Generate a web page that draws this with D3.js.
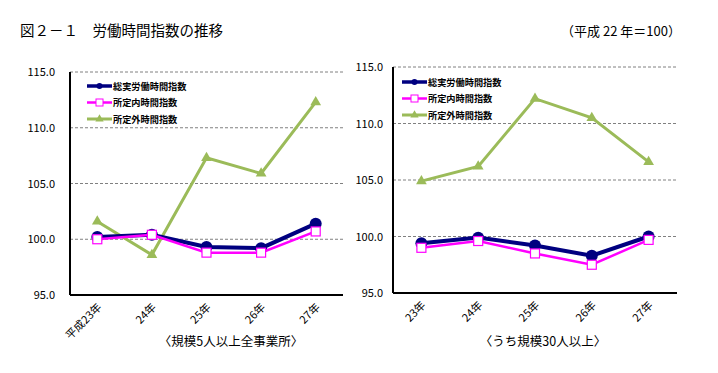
<!DOCTYPE html>
<html>
<head>
<meta charset="utf-8">
<script src="https://cdn.jsdelivr.net/npm/d3@7"></script>
<style>
  body { margin: 0; background: #fff; }
  svg { font-family: "Noto Sans CJK JP", sans-serif; }
</style>
</head>
<body>
<div class="chart"></div>
<script>
// series names and categories
const seriesNames = ["総実労働時間指数", "所定内時間指数", "所定外時間指数"];
const yearsLeft = ["平成23年", "24年", "25年", "26年", "27年"];
const yearsRight = ["23年", "24年", "25年", "26年", "27年"];
const yTicks = [95, 100, 105, 110, 115];

// 規模5人以上
const totalLeft = [100.2, 100.4, 99.3, 99.2, 101.4];
const scheduledLeft = [100.0, 100.4, 98.8, 98.8, 100.7];
const overtimeLeft = [101.6, 98.6, 107.3, 105.9, 112.3];

// 規模30人以上
const totalRight = [99.4, 99.9, 99.2, 98.3, 100.0];
const scheduledRight = [99.0, 99.6, 98.5, 97.5, 99.7];
const overtimeRight = [104.9, 106.2, 112.2, 110.5, 106.6];

const width = 718, height = 373;

const svg = d3.select(".chart")
  .append("svg")
  .attr("width", width)
  .attr("height", height);

// title
svg.append("text")
  .attr("x", 20).attr("y", 36)
  .attr("font-size", 14.5)
  .text("図２－１　労働時間指数の推移");

svg.append("text")
  .attr("x", 681).attr("y", 36)
  .attr("text-anchor", "end")
  .attr("font-size", 13)
  .text("（平成 22 年＝100）");

const colors = ["#000080", "#ff00ff", "#9bbb59"];

function drawPanel(opt) {
  const g = svg.append("g");
  const x = d3.scaleBand()
    .domain(opt.years)
    .range([opt.left, opt.right]);
  const y = d3.scaleLinear()
    .domain([95, 115])
    .range([opt.bottom, opt.top]);

  // gridlines
  g.selectAll(".grid")
    .data(yTicks.slice(1))
    .enter()
    .append("line")
    .attr("x1", opt.left).attr("x2", opt.right)
    .attr("y1", d => y(d)).attr("y2", d => y(d))
    .attr("stroke", "#808080")
    .attr("stroke-width", 1)
    .attr("stroke-dasharray", "3,2");

  // y tick labels
  g.selectAll(".ytick")
    .data(yTicks)
    .enter()
    .append("text")
    .attr("x", opt.left - opt.labGap)
    .attr("y", d => y(d) + 4)
    .attr("text-anchor", "end")
    .attr("font-size", 11)
    .text(d => d.toFixed(1));

  // axis lines
  g.append("line")
    .attr("x1", opt.left).attr("x2", opt.left)
    .attr("y1", opt.top).attr("y2", opt.bottom)
    .attr("stroke", "#000").attr("stroke-width", 2);
  g.append("line")
    .attr("x1", opt.left).attr("x2", opt.right)
    .attr("y1", opt.bottom).attr("y2", opt.bottom)
    .attr("stroke", "#000").attr("stroke-width", 2);

  // x labels, rotated
  g.selectAll(".xlab")
    .data(opt.years)
    .enter()
    .append("text")
    .attr("text-anchor", "end")
    .attr("font-size", 11)
    .attr("transform", d => `translate(${x(d) + x.bandwidth() / 2 + 5},${opt.bottom + 13}) rotate(-45)`)
    .text(d => d);

  // caption
  svg.append("text")
    .attr("x", opt.capX)
    .attr("y", 346)
    .attr("text-anchor", "middle")
    .attr("font-size", 12.5)
    .text(opt.caption);

  const line = d3.line()
    .x((d, i) => x(opt.years[i]) + x.bandwidth() / 2)
    .y(d => y(d));

  const cx = i => x(opt.years[i]) + x.bandwidth() / 2;

  // overtime (green)
  g.append("path").datum(opt.overtime)
    .attr("d", line).attr("fill", "none")
    .attr("stroke", colors[2]).attr("stroke-width", 3);
  g.selectAll(".tri").data(opt.overtime).enter()
    .append("path")
    .attr("d", d3.symbol().type(d3.symbolTriangle).size(50))
    .attr("transform", (d, i) => `translate(${cx(i)},${y(d)})`)
    .attr("fill", colors[2]);

  // total (navy)
  g.append("path").datum(opt.total)
    .attr("d", line).attr("fill", "none")
    .attr("stroke", colors[0]).attr("stroke-width", 4);
  g.selectAll(".dot").data(opt.total).enter()
    .append("circle")
    .attr("cx", (d, i) => cx(i)).attr("cy", d => y(d))
    .attr("r", 6).attr("fill", colors[0]);

  // scheduled (magenta)
  g.append("path").datum(opt.scheduled)
    .attr("d", line).attr("fill", "none")
    .attr("stroke", colors[1]).attr("stroke-width", 2.5);
  g.selectAll(".sq").data(opt.scheduled).enter()
    .append("rect")
    .attr("x", (d, i) => cx(i) - 4.5).attr("y", d => y(d) - 4.5)
    .attr("width", 9).attr("height", 9)
    .attr("fill", "#fff").attr("stroke", colors[1]).attr("stroke-width", 1.2);

  // legend
  const leg = g.selectAll(".leg").data(seriesNames).enter()
    .append("g")
    .attr("transform", (d, i) => `translate(${opt.legX},${opt.legY + i * 16.5})`);
  leg.append("line")
    .attr("x1", 0).attr("x2", 25)
    .attr("stroke", (d, i) => colors[i])
    .attr("stroke-width", (d, i) => [3.5, 2.5, 3][i]);
  leg.each(function(d, i) {
    const s = d3.select(this);
    if (i === 0) s.append("circle").attr("cx", 12.5).attr("r", 3).attr("fill", colors[0]);
    if (i === 1) s.append("rect").attr("x", 9).attr("y", -3.5).attr("width", 7).attr("height", 7)
      .attr("fill", "#fff").attr("stroke", colors[1]);
    if (i === 2) s.append("path").attr("d", d3.symbol().type(d3.symbolTriangle).size(30))
      .attr("transform", "translate(12.5,0)").attr("fill", colors[2]);
  });
  leg.append("text")
    .attr("x", 26).attr("y", 3.5)
    .attr("font-size", 9.2)
    .attr("font-weight", "bold")
    .text(d => d);
}

drawPanel({
  left: 70, right: 343, top: 72, bottom: 295,
  years: yearsLeft,
  total: totalLeft, scheduled: scheduledLeft, overtime: overtimeLeft,
  caption: "〈規模5人以上全事業所〉",
  capX: 231, labGap: 15,
  legX: 87, legY: 86
});

drawPanel({
  left: 393, right: 677, top: 67, bottom: 293,
  years: yearsRight,
  total: totalRight, scheduled: scheduledRight, overtime: overtimeRight,
  caption: "〈うち規模30人以上〉",
  capX: 543, labGap: 10,
  legX: 402, legY: 82
});
</script>
</body>
</html>
